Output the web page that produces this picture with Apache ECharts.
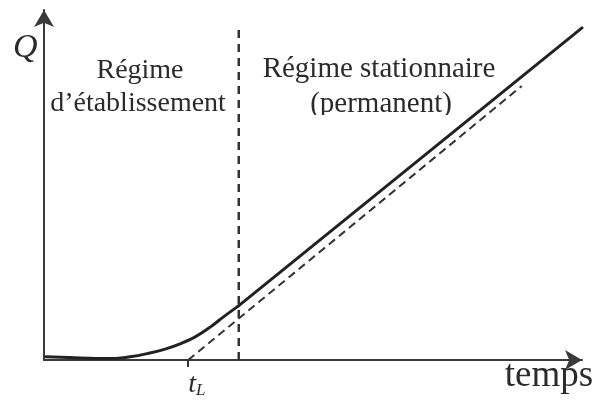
<!DOCTYPE html>
<html>
<head>
<meta charset="utf-8">
<script src="https://cdn.jsdelivr.net/npm/echarts@6/dist/echarts.min.js"></script>
<style>
  html, body { margin: 0; padding: 0; background: #fff; }
  #chart { width: 599px; height: 409px; }
</style>
</head>
<body>
<div id="chart"></div>
<script>
// Flow Q over time: transient start-up then steady (permanent) regime.
// Start-up part of the curve (bends upward)
const kneeT = [0.04, 0.67, 1.23, 1.60, 1.97, 2.25, 2.53, 2.81, 3.09, 3.36, 3.61];
const kneeQ = [0.09, 0.06, 0.04, 0.09, 0.20, 0.31, 0.46, 0.66, 0.94, 1.26, 1.54];
// Steady part of the curve (straight)
const steadyT = [3.61, 10.0];
const steadyQ = [1.54, 9.49];
// Asymptote of the steady regime, starting at t_L on the time axis
const asymT = [2.68, 8.88];
const asymQ = [0, 7.83];
// Boundary between the two regimes
const boundaryT = [3.62, 3.62];
const boundaryQ = [0, 9.57];
const tL = 2.68;

const font = 'Liberation Serif, Times New Roman, serif';
const ink = '#2b2b2b';

const zip = (a, b) => a.map((v, i) => [v, b[i]]);

const chart = echarts.init(document.getElementById('chart'), null, { renderer: 'canvas' });
chart.setOption({
  animation: false,
  backgroundColor: '#fff',
  grid: { left: 44, right: 17, top: 10, bottom: 49 },
  xAxis: {
    type: 'value', min: 0, max: 10,
    splitLine: { show: false },
    axisLine: {
      show: true, onZero: false,
      symbol: ['none', 'arrow'], symbolSize: [15, 17],
      lineStyle: { color: '#3a3a3a', width: 2 }
    },
    axisTick: {
      show: true, customValues: [tL], length: 7, inside: false,
      lineStyle: { color: '#333', width: 2 }
    },
    axisLabel: {
      show: true, customValues: [tL], margin: 10, align: 'left',
      formatter: () => '{t|t}{s|L}',
      rich: {
        t: { fontFamily: font, fontStyle: 'italic', fontSize: 28, color: ink, verticalAlign: 'bottom' },
        s: { fontFamily: font, fontStyle: 'italic', fontSize: 17, color: ink, padding: [12, 0, 0, 0], verticalAlign: 'bottom' }
      }
    }
  },
  yAxis: {
    type: 'value', min: 0, max: 10,
    splitLine: { show: false },
    axisTick: { show: false },
    axisLabel: { show: false },
    axisLine: {
      show: true, onZero: false,
      symbol: ['none', 'arrow'], symbolSize: [15, 17],
      lineStyle: { color: '#3a3a3a', width: 2 }
    }
  },
  series: [
    {
      type: 'line', data: zip(boundaryT, boundaryQ), symbol: 'none', clip: false,
      lineStyle: { color: '#333', width: 2.5, type: [8, 6] }
    },
    {
      type: 'line', data: zip(asymT, asymQ), symbol: 'none', clip: false,
      lineStyle: { color: '#333', width: 2, type: [8, 5] }
    },
    {
      type: 'line', data: zip(kneeT, kneeQ), symbol: 'none', clip: false,
      smooth: 0.4,
      lineStyle: { color: '#222', width: 3, cap: 'round' }
    },
    {
      type: 'line', data: zip(steadyT, steadyQ), symbol: 'none', clip: false,
      lineStyle: { color: '#222', width: 3, cap: 'round' }
    }
  ],
  graphic: [
    { type: 'text', left: 13, top: 31, z: 10,
      style: { text: 'Q', font: 'italic 34px ' + font, fill: ink } },
    { type: 'text', x: 140, y: 71, z: 10,
      style: { text: 'Régime', font: '28px ' + font, fill: ink, align: 'center', verticalAlign: 'middle' } },
    { type: 'text', x: 138, y: 104, z: 10,
      style: { text: 'd’établissement', font: '28px ' + font, fill: ink, align: 'center', verticalAlign: 'middle' } },
    { type: 'text', x: 379, y: 69, z: 10,
      style: { text: 'Régime stationnaire', font: '29px ' + font, fill: ink, align: 'center', verticalAlign: 'middle' } },
    { type: 'text', x: 381, y: 104, z: 10,
      style: { text: '(permanent)', font: '29px ' + font, fill: ink, align: 'center', verticalAlign: 'middle' } },
    // the second line of the right-hand caption is cut just under its baseline
    { type: 'rect', shape: { x: 300, y: 115, width: 155, height: 14 }, z: 11,
      style: { fill: '#fff' } },
    { type: 'text', x: 549, y: 376, z: 10,
      style: { text: 'temps', font: '37px ' + font, fill: ink, align: 'center', verticalAlign: 'middle' } }
  ]
});
</script>
</body>
</html>
